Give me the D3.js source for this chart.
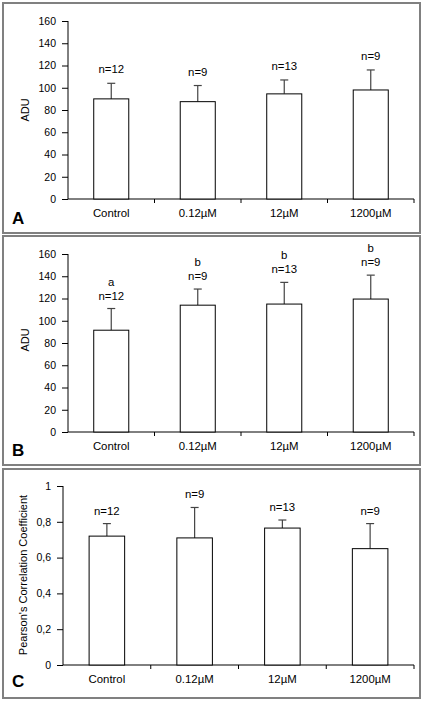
<!DOCTYPE html>
<html><head><meta charset="utf-8">
<script src="https://cdn.jsdelivr.net/npm/d3@7"></script>
<style>
html,body{margin:0;padding:0;background:#fff;}
svg{display:block;}
text{font-family:"Liberation Sans",Arial,sans-serif;fill:#000;}
</style></head>
<body>
<svg id="chart" width="426" height="702"></svg>
<script>
const categories = ["Control", "0.12\u00b5M", "12\u00b5M", "1200\u00b5M"];
const nLabels = ["n=12", "n=9", "n=13", "n=9"];

const meanA = [90, 87.5, 94.5, 98];
const errA  = [14, 14.5, 12.5, 18];

const meanB = [91.5, 114, 115, 119.5];
const errB  = [19.5, 14.5, 19.5, 21.5];
const sigB  = ["a", "b", "b", "b"];

const meanC = [0.72, 0.71, 0.765, 0.65];
const errC  = [0.07, 0.17, 0.045, 0.14];

const ticksADU = [0, 20, 40, 60, 80, 100, 120, 140, 160];
const ticksC = [0, 0.2, 0.4, 0.6, 0.8, 1];

const svg = d3.select("#chart");
const FONT = "Liberation Sans, Arial, sans-serif";

function panel(cfg) {
  const g = svg.append("g");
  g.append("rect").attr("x", cfg.box[0]).attr("y", cfg.box[1])
    .attr("width", cfg.box[2]).attr("height", cfg.box[3])
    .attr("fill", "none").attr("stroke", "#808080").attr("stroke-width", 2);

  const x = d3.scaleBand().domain(categories).range([cfg.x0, cfg.x1]).padding(0);
  const y = d3.scaleLinear().domain(cfg.domain).range([cfg.yb, cfg.yt]);

  const ya = g.append("g").attr("transform", `translate(${cfg.x0},0)`)
    .call(d3.axisLeft(y).tickValues(cfg.ticks).tickSize(6).tickPadding(6).tickFormat(cfg.fmt));
  ya.select(".domain").attr("stroke", "#000").attr("d", `M0,${cfg.yt}V${cfg.yb}`);
  ya.selectAll(".tick line").attr("stroke", "#000");
  ya.selectAll(".tick text").attr("font-size", 10.5).attr("font-family", FONT);

  const xa = g.append("g").attr("transform", `translate(0,${cfg.yb})`)
    .call(d3.axisBottom(x).tickSize(0).tickPadding(10));
  xa.select(".domain").attr("stroke", "#000").attr("d", `M${cfg.x0},0H${cfg.x1}`);
  xa.selectAll(".tick text").attr("font-size", 11.4).attr("font-family", FONT);
  g.append("g").selectAll("line").data(categories).join("line")
    .attr("x1", d => x(d) + x.bandwidth()).attr("x2", d => x(d) + x.bandwidth())
    .attr("y1", cfg.yb).attr("y2", cfg.yb + 4).attr("stroke", "#000");

  const bw = x.bandwidth() * 0.405;
  const cx = d => x(d) + x.bandwidth() / 2;

  const eg = g.append("g");
  eg.selectAll("line.v").data(categories).join("line").attr("class", "v")
    .attr("x1", cx).attr("x2", cx)
    .attr("y1", (d, i) => y(cfg.mean[i])).attr("y2", (d, i) => y(cfg.mean[i] + cfg.err[i]))
    .attr("stroke", "#444").attr("stroke-width", 1.2);
  eg.selectAll("line.c").data(categories).join("line").attr("class", "c")
    .attr("x1", d => cx(d) - 4).attr("x2", d => cx(d) + 4)
    .attr("y1", (d, i) => y(cfg.mean[i] + cfg.err[i])).attr("y2", (d, i) => y(cfg.mean[i] + cfg.err[i]))
    .attr("stroke", "#444").attr("stroke-width", 1.2);

  g.append("g").selectAll("rect").data(categories).join("rect")
    .attr("x", d => cx(d) - bw / 2).attr("width", bw)
    .attr("y", (d, i) => y(cfg.mean[i])).attr("height", (d, i) => cfg.yb - y(cfg.mean[i]))
    .attr("fill", "#fff").attr("stroke", "#000").attr("stroke-width", 1);

  g.append("g").selectAll("text").data(categories).join("text")
    .attr("x", cx).attr("y", (d, i) => y(cfg.mean[i] + cfg.err[i]) - cfg.lblOff)
    .attr("text-anchor", "middle").attr("font-size", 11.4).text((d, i) => nLabels[i]);
  if (cfg.sig) {
    g.append("g").selectAll("text").data(categories).join("text")
      .attr("x", cx).attr("y", (d, i) => y(cfg.mean[i] + cfg.err[i]) - cfg.lblOff - 14)
      .attr("text-anchor", "middle").attr("font-size", 11.4).text((d, i) => cfg.sig[i]);
  }

  g.append("text").attr("transform", `translate(${cfg.ylx},${cfg.yly}) rotate(-90)`)
    .attr("text-anchor", "middle").attr("font-size", 11).text(cfg.ylabel);

  g.append("text").attr("x", 12).attr("y", cfg.letterY)
    .attr("font-size", 17).attr("font-weight", "bold").text(cfg.letter);
}

panel({box: [3, 3, 417, 230], x0: 68, x1: 414, yb: 199, yt: 21, domain: [0, 160],
  ticks: ticksADU, fmt: d3.format("d"), mean: meanA, err: errA, lblOff: 10,
  ylabel: "ADU", ylx: 29, yly: 110, letter: "A", letterY: 224});

panel({box: [3, 236, 417, 229], x0: 68, x1: 414, yb: 432, yt: 254, domain: [0, 160],
  ticks: ticksADU, fmt: d3.format("d"), mean: meanB, err: errB, sig: sigB, lblOff: 9,
  ylabel: "ADU", ylx: 29, yly: 340, letter: "B", letterY: 456});

panel({box: [3, 469, 417, 229], x0: 63, x1: 414, yb: 665, yt: 486, domain: [0, 1],
  ticks: ticksC, fmt: d => d === 0 ? "0" : d === 1 ? "1" : d3.format(".1f")(d).replace(".", ","),
  mean: meanC, err: errC, lblOff: 9,
  ylabel: "Pearson's Correlation Coefficient", ylx: 27, yly: 575, letter: "C", letterY: 687});
</script>
</body></html>
